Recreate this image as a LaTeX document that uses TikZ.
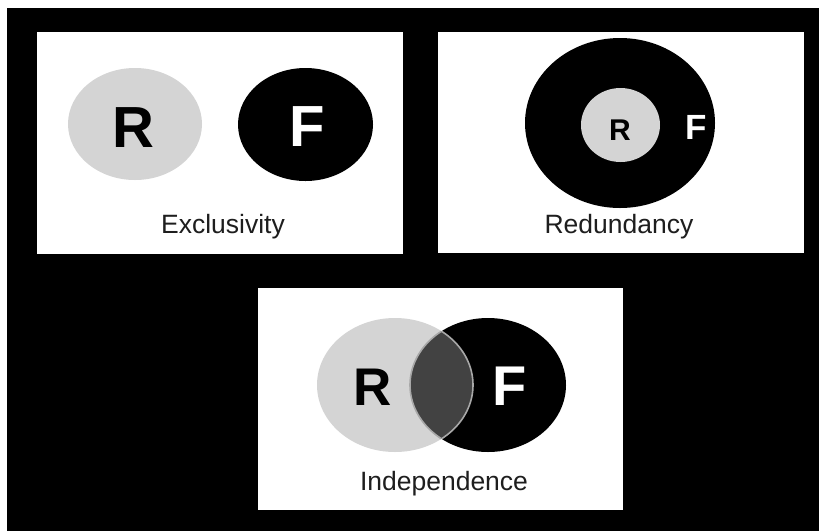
\documentclass[tikz,border=0pt]{standalone}
\usepackage{fontspec}
\setmainfont{Liberation Sans}
\usetikzlibrary{shapes.geometric}
\definecolor{lgray}{HTML}{D4D4D4}
\definecolor{dgray}{HTML}{424242}
\definecolor{ogray}{HTML}{A8A8A8}
\definecolor{txt}{HTML}{1E1E1E}
\begin{document}
\begin{tikzpicture}[x=1pt,y=-1pt,
  panel/.style={fill=white},
  setR/.style={ellipse,fill=lgray,inner sep=0pt},
  setF/.style={ellipse,fill=black,inner sep=0pt},
  caption/.style={anchor=base,inner sep=0pt,text=txt,font=\fontsize{26.5}{30}\selectfont},
  letter/.style={anchor=base,inner sep=0pt,font=\fontsize{#1}{#1}\selectfont\bfseries}]
\useasboundingbox (0,0) rectangle (819,531);
\fill[white] (0,0) rectangle (819,531);
\fill[black] (7,8) rectangle (819,531);
% panels
\fill[panel] (37,32) rectangle (403,254);
\fill[panel] (438,32) rectangle (804,253);
\fill[panel] (258,288) rectangle (623,510);
% Exclusivity
\node[setR,minimum width=134pt,minimum height=112pt] (exR) at (135,124) {};
\node[setF,minimum width=135pt,minimum height=113pt] (exF) at (305.5,124.5) {};
\node[letter=58,text=black] (exRl) at (133,147) {R};
\node[letter=58,text=white] (exFl) at (307,146) {F};
\node[caption] (excap) at (223,233) {Exclusivity};
% Redundancy
\node[setF,minimum width=190pt,minimum height=170pt] (reF) at (620,123) {};
\node[setR,minimum width=79pt,minimum height=74pt] (reR) at (620.5,125) {};
\node[letter=30,text=black] (reRl) at (620,140) {R};
\node[letter=35,text=white] (reFl) at (696,139) {F};
\node[caption] (recap) at (619,233) {Redundancy};
% Independence
\node[setR,minimum width=156pt,minimum height=134pt] (inR) at (395,385) {};
\node[setF,minimum width=156pt,minimum height=134pt] (inF) at (488,385) {};
\begin{scope}
  \clip (395,385) ellipse [x radius=78, y radius=67];
  \filldraw[fill=dgray,draw=ogray,line width=1.6pt] (488,385) ellipse [x radius=78, y radius=67];
\end{scope}
\begin{scope}
  \clip (488,385) ellipse [x radius=78, y radius=67];
  \draw[ogray,line width=1.6pt] (395,385) ellipse [x radius=78, y radius=67];
\end{scope}
\node[letter=53,text=black] (inRl) at (373,405) {R};
\node[letter=56,text=white] (inFl) at (510,405) {F};
\node[caption] (incap) at (444,490) {Independence};
\end{tikzpicture}
\end{document}
